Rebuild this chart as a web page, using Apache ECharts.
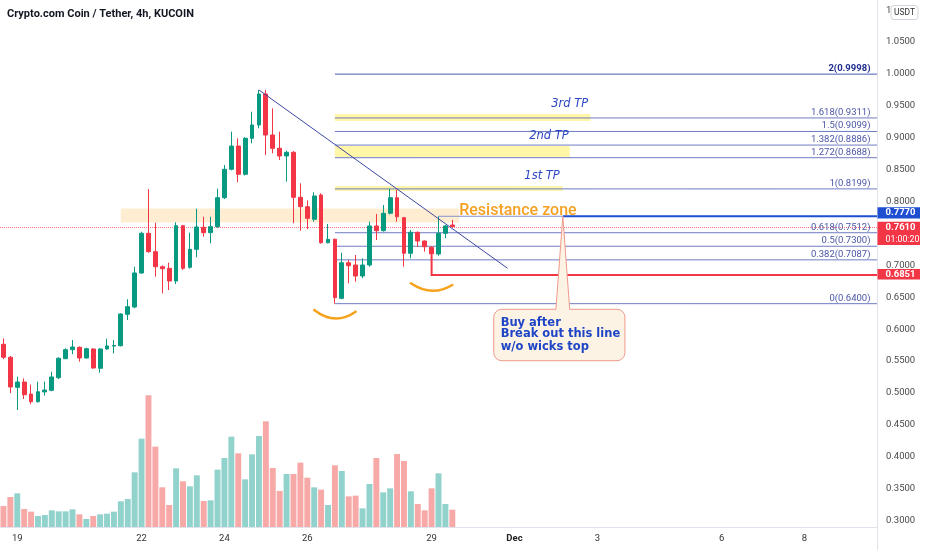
<!DOCTYPE html>
<html><head><meta charset="utf-8">
<script src="https://cdn.jsdelivr.net/npm/echarts@6/dist/echarts.min.js"></script>
<style>html,body{margin:0;padding:0;background:#fff}#c{width:932px;height:550px}</style>
</head><body><div id="c"></div>
<script>
const chartTitle = 'Crypto.com Coin / Tether, 4h, KUCOIN';
// 4h candles; index 0 = Nov 19 00:00, first candle is index -2
const firstIndex = -2;
const lastSlot = 124;
const open = [0.5763,0.5560,0.5089,0.5172,0.4984,0.4864,0.5016,0.5042,0.5240,0.5538,0.5679,0.5716,0.5549,0.5690,0.5387,0.5690,0.5735,0.5741,0.6233,0.6348,0.6881,0.7503,0.7215,0.6980,0.6954,0.6755,0.7622,0.6970,0.7252,0.7597,0.7513,0.7607,0.8061,0.8506,0.8871,0.8428,0.8992,0.9201,0.9687,0.9044,0.8835,0.8715,0.8773,0.8067,0.7920,0.7723,0.8103,0.7356,0.7409,0.6484,0.7042,0.7006,0.6834,0.7006,0.7618,0.7544,0.7817,0.8061,0.7748,0.7190,0.7519,0.7382,0.7284,0.7179,0.7503,0.7633];
const close = [0.5560,0.5094,0.5172,0.4973,0.4864,0.5020,0.5047,0.5251,0.5544,0.5679,0.5721,0.5549,0.5694,0.5392,0.5690,0.5737,0.5745,0.6238,0.6353,0.6881,0.7503,0.7215,0.6980,0.6948,0.6755,0.7622,0.6954,0.7252,0.7602,0.7513,0.7607,0.8061,0.8506,0.8871,0.8428,0.8992,0.9201,0.9687,0.9044,0.8835,0.8715,0.8773,0.8067,0.7920,0.7738,0.8088,0.7356,0.7409,0.6494,0.7042,0.6995,0.6834,0.7006,0.7618,0.7544,0.7817,0.8061,0.7763,0.7190,0.7519,0.7382,0.7293,0.7179,0.7503,0.7618,0.7610];
const low = [0.5530,0.4995,0.4734,0.4906,0.4823,0.4850,0.4958,0.5027,0.5219,0.5530,0.5607,0.5491,0.5540,0.5380,0.5318,0.5680,0.5622,0.5730,0.6144,0.6330,0.6870,0.7199,0.6823,0.6563,0.6614,0.6708,0.6930,0.6950,0.7127,0.7450,0.7346,0.7590,0.8040,0.8490,0.8303,0.8410,0.8914,0.9150,0.8730,0.8757,0.8652,0.8312,0.7660,0.7544,0.7570,0.7685,0.7340,0.7346,0.6400,0.6470,0.6719,0.6745,0.6800,0.6980,0.7398,0.7530,0.7800,0.7685,0.6980,0.7111,0.7293,0.7215,0.7163,0.7150,0.7425,0.7597];
const high = [0.5857,0.5580,0.5256,0.5230,0.5130,0.5177,0.5177,0.5334,0.5560,0.5700,0.5831,0.5730,0.5710,0.5700,0.5700,0.5851,0.5831,0.6250,0.6469,0.6980,0.7528,0.8197,0.7669,0.7000,0.7042,0.7675,0.7630,0.7513,0.7889,0.7763,0.7763,0.8202,0.8574,0.9096,0.8992,0.9010,0.9409,0.9749,0.9749,0.9462,0.9096,0.8798,0.8790,0.8287,0.8020,0.8146,0.8130,0.7649,0.7420,0.7199,0.7085,0.7163,0.7111,0.7685,0.7806,0.7947,0.8199,0.8182,0.7760,0.7555,0.7530,0.7390,0.7300,0.7770,0.7633,0.7712];
const volume = [63,90,101,54,46,33,36,50,47,47,53,38,24,33,38,40,46,77,84,164,265,395,241,119,66,176,137,122,155,78,80,172,207,271,221,143,218,273,317,177,108,159,159,193,148,119,112,66,185,168,92,94,56,129,207,104,116,219,198,107,69,50,116,161,69,52];
const tickIndex = [0,18,30,42,60,72,84,102,114];
const tickText = ['19','22','24','26','29','Dec','3','6','8'];
const fibLevels = ['2','1.618','1.5','1.382','1.272','1','0.618','0.5','0.382','0'];
const fibPrices = [0.9998,0.9311,0.9099,0.8886,0.8688,0.8199,0.7512,0.7300,0.7087,0.6400];
const lastPrice = 0.7610;
const countdown = '01:00:20';
const breakoutPrice = 0.7770;
const supportPrice = 0.6851;
const tpNames = ['3rd TP','2nd TP','1st TP'];
const calloutLines = ['Buy after','Break out this line','w/o wicks top'];

const UP = '#089981', DOWN = '#f23645';
const cats = [];
for (let i = firstIndex; i <= lastSlot; i++) {
  const d = new Date(Date.UTC(2021,10,19) + i*4*3600e3);
  cats.push((d.getUTCMonth()+1)+'-'+d.getUTCDate()+' '+String(d.getUTCHours()).padStart(2,'0')+':00');
}
const candleData = open.map((o,k)=>[o, close[k], low[k], high[k]]);
const volData = volume.map((v,k)=>({value:v, itemStyle:{color: close[k]>=open[k] ? 'rgba(38,166,154,0.5)' : 'rgba(239,83,80,0.5)'}}));
const tickPos = tickIndex.map(i=>i-firstIndex);

const chart = echarts.init(document.getElementById('c'));
const FONT = 'Roboto';
chart.setOption({
  animation:false,
  backgroundColor:'#ffffff',
  grid:[{left:-3, right:55, top:10.2, height:510.4},{left:-3, right:55, top:327, height:200}],
  xAxis:[
    {type:'category', gridIndex:0, data:cats, show:false},
    {type:'category', gridIndex:1, data:cats,
     axisLine:{show:true, lineStyle:{color:'#e0e3eb'}}, axisTick:{show:false}, splitLine:{show:false},
     axisLabel:{interval:(i)=>tickPos.indexOf(i)>=0, margin:7, color:'#333', fontSize:9.5, fontFamily:FONT,
       formatter:(v,i)=>{const t = tickText[tickPos.indexOf(i)]||''; return t==='Dec' ? '{b|Dec}' : t;},
       rich:{b:{fontWeight:'bold', fontSize:9.5, fontFamily:FONT, color:'#222'}}}}
  ],
  yAxis:[
    {type:'value', gridIndex:0, position:'right', min:0.3, max:1.1, interval:0.05,
     splitLine:{show:false}, axisLine:{show:false}, axisTick:{show:false},
     axisLabel:{formatter:v=>v.toFixed(4), margin:9, color:'#4a4a4a', fontSize:9.5, fontFamily:FONT}},
    {type:'value', gridIndex:1, min:0, max:600, show:false}
  ],
  series:[
    {type:'bar', xAxisIndex:1, yAxisIndex:1, data:volData, barWidth:'86%', z:2},
    {type:'candlestick', xAxisIndex:0, yAxisIndex:0, data:candleData, barWidth:'62%', z:5,
     itemStyle:{color:UP, color0:DOWN, borderColor:UP, borderColor0:DOWN, borderWidth:1},
     markLine:{silent:true, symbol:'none', label:{show:false},
       lineStyle:{type:'dotted', color:'rgba(242,54,69,0.7)', width:1},
       data:[{yAxis:lastPrice}]}}
  ]
});

const px = (idx,p)=>chart.convertToPixel({gridIndex:0},[idx-firstIndex,p]);
const RIGHT = 877;
const G = [];
function rect(x1,y1,x2,y2,style,z){G.push({type:'rect',silent:true,z:z,shape:{x:Math.min(x1,x2),y:Math.min(y1,y2),width:Math.abs(x2-x1),height:Math.abs(y2-y1)},style:style});}
function seg(x1,y1,x2,y2,style,z){G.push({type:'line',silent:true,z:z,shape:{x1,y1,x2,y2},style:style});}
function txt(x,y,s,style,z){G.push({type:'text',silent:true,z:z,x:x,y:y,style:Object.assign({text:s},style)});}

// resistance zone band
let a = px(15,0.7892), b = px(64,0.7672);
rect(a[0],a[1],b[0],b[1],{fill:'rgba(255,183,77,0.25)'},1);
// TP bands
[[82.9,0.9373,0.9263],[79.9,0.8870,0.8700],[78.7,0.8245,0.8166]].forEach(t=>{
  const p1 = px(46,t[1]), p2 = px(t[0],t[2]);
  rect(p1[0],p1[1],p2[0],p2[1],{fill:'rgba(255,235,59,0.45)'},1);
});
// fib lines
fibPrices.forEach((p,k)=>{
  const s = px(46,p);
  const strong = fibLevels[k]==='2';
  seg(s[0],s[1],RIGHT,s[1],{stroke: strong?'#4a58b0':'#6f7cc2', lineWidth:1},3);
  txt(870.5,s[1]-5.5,fibLevels[k]+'('+p.toFixed(4)+')',{fill: strong?'#1f2d8f':'#4a56a6', fontSize:9.5, fontFamily:FONT, fontWeight: strong?'bold':'normal', align:'right', textAlign:'right', verticalAlign:'middle', textVerticalAlign:'middle'},20);
});
// TP labels
[[80.2,0.9530],[77.2,0.9028],[76.35,0.8401]].forEach((t,k)=>{
  const p = px(t[0],t[1]);
  txt(p[0],p[1],tpNames[k],{fill:'#2a46c2', fontSize:11.5, fontFamily:'DejaVu Sans', fontStyle:'italic', align:'center', textAlign:'center', verticalAlign:'middle', textVerticalAlign:'middle'},20);
});
// trend line
a = px(35,0.9749); b = px(70.8,0.6955);
seg(a[0],a[1],b[0],b[1],{stroke:'#3d47a3', lineWidth:1},6);
// support L (red)
a = px(60,0.7163); b = px(60,supportPrice);
G.push({type:'polyline',silent:true,z:6,shape:{points:[[a[0],a[1]],[b[0],b[1]],[RIGHT,b[1]]]},style:{stroke:'#f23645',lineWidth:2,fill:null}});
// breakout line
a = px(61,breakoutPrice); b = px(78.9,breakoutPrice);
seg(a[0],a[1],b[0],a[1],{stroke:'#8494d2',lineWidth:1},6);
seg(b[0],a[1],RIGHT,a[1],{stroke:'#1f4fd1',lineWidth:2},6);
// resistance text
a = px(64.2,0.7853);
txt(a[0],a[1],'Resistance zone',{fill:'#f7a123', fontSize:16, fontWeight:500, fontFamily:'Roboto', align:'left', textAlign:'left', verticalAlign:'middle', textVerticalAlign:'middle'},21);
// smile arcs
[[42.9,0.6301,45.9,0.6050,48.9,0.6275],[56.9,0.6719,59.9,0.6498,62.9,0.6693]].forEach(c=>{
  const p1=px(c[0],c[1]), cp=px(c[2],c[3]), p2=px(c[4],c[5]);
  G.push({type:'bezierCurve',silent:true,z:6,shape:{x1:p1[0],y1:p1[1],cpx1:cp[0],cpy1:cp[1],x2:p2[0],y2:p2[1]},style:{stroke:'#f7a21b',lineWidth:2.5,fill:null,lineCap:'round'}});
});
// callout
a = px(69.2,0.6312); b = px(88.4,0.5506);
G.push({type:'rect',silent:true,z:22,shape:{x:a[0],y:a[1],width:b[0]-a[0],height:b[1]-a[1],r:8},style:{fill:'#fdf3e4',stroke:'#f0998a',lineWidth:1}});
const tip = px(78.9,breakoutPrice), bl = px(78.0,0.6312), br = px(79.8,0.6312);
G.push({type:'polygon',silent:true,z:23,shape:{points:[[bl[0],bl[1]+0.8],[tip[0],tip[1]],[br[0],br[1]+0.8]]},style:{fill:'#fdf3e4'}});
G.push({type:'polyline',silent:true,z:24,shape:{points:[[bl[0],bl[1]],[tip[0],tip[1]],[br[0],br[1]]]},style:{stroke:'#f0998a',lineWidth:1,fill:null}});
[0.6102,0.5920,0.5726].forEach((p,k)=>{
  const q = px(70.3,p);
  txt(q[0],q[1],calloutLines[k],{fill:'#1d45c6', fontSize:11.5, fontWeight:'bold', fontFamily:'DejaVu Sans', align:'left', textAlign:'left', verticalAlign:'middle', textVerticalAlign:'middle'},25);
});
// axis frame
seg(RIGHT+0.5,0,RIGHT+0.5,550,{stroke:'#e0e3eb',lineWidth:1},30);
// right price tags
const boxStyle = (c)=>({fill:c});
const tagFont = {fill:'#fff', fontSize:9.5, fontWeight:'bold', fontFamily:FONT, align:'left', textAlign:'left', verticalAlign:'middle', textVerticalAlign:'middle'};
let y = px(0,breakoutPrice)[1];
rect(RIGHT+0.5,y-9,RIGHT+43,y+2.2,boxStyle('#1f4fd1'),40);
txt(885.5,y-3.4,breakoutPrice.toFixed(4),tagFont,41);
y = px(0,lastPrice)[1];
rect(RIGHT+0.5,y-4.8,RIGHT+43,y+18.5,boxStyle('#f23645'),40);
txt(885.5,y+1.3,lastPrice.toFixed(4),tagFont,41);
txt(885.5,y+13,countdown,Object.assign({},tagFont,{fontWeight:'normal',fontSize:8.8}),41);
y = px(0,supportPrice)[1];
rect(RIGHT+0.5,y-5.8,RIGHT+43,y+4.6,boxStyle('#f23645'),40);
txt(885.5,y-0.6,supportPrice.toFixed(4),tagFont,41);
// USDT box
G.push({type:'rect',silent:true,z:40,shape:{x:891,y:5.5,width:27,height:14,r:3},style:{fill:'#fff',stroke:'#d1d4dc',lineWidth:1}});
txt(904.5,12.8,'USDT',{fill:'#333',fontSize:8.5,fontFamily:FONT,align:'center',textAlign:'center',verticalAlign:'middle',textVerticalAlign:'middle'},41);
// title
txt(7,14,chartTitle,{fill:'#131722',fontSize:11,fontWeight:'bold',fontFamily:FONT,align:'left',textAlign:'left',verticalAlign:'middle',textVerticalAlign:'middle'},41);

chart.setOption({graphic:{elements:G}});
</script></body></html>
